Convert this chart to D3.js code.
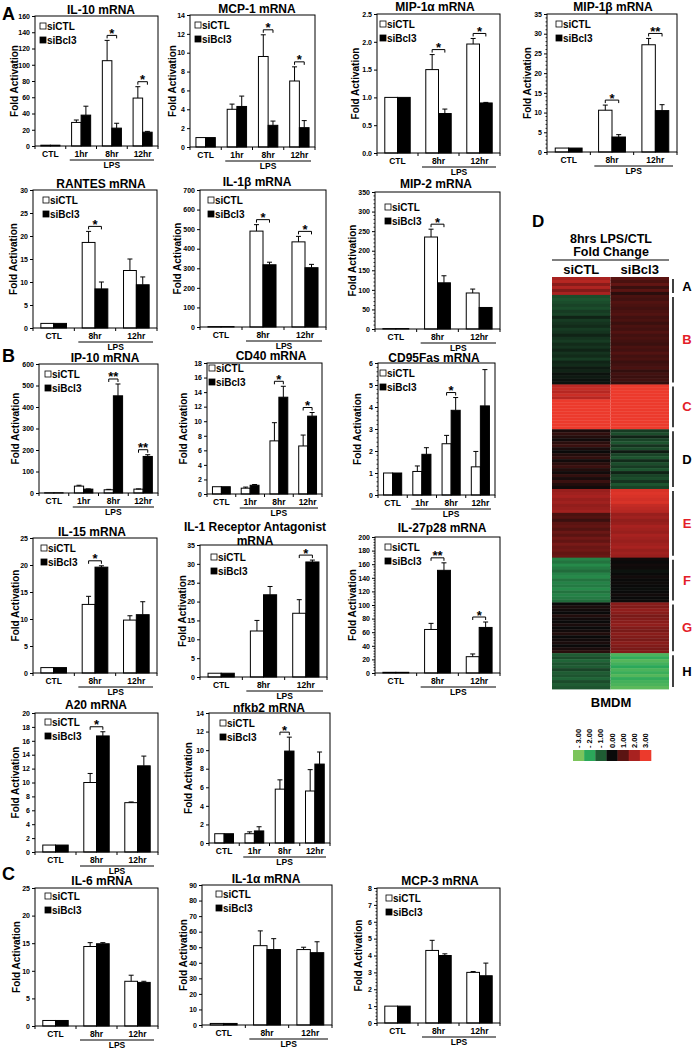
<!DOCTYPE html>
<html>
<head>
<meta charset="utf-8">
<script src="https://cdn.jsdelivr.net/npm/d3@7"></script>
<style>
body { margin: 0; background: #fff; }
svg text { font-family: "Liberation Sans", Arial, sans-serif; font-weight: bold; fill: #000; }
</style>
</head>
<body>
<svg id="fig" width="693" height="1049"></svg>
<script>
// ---- data ----
var catsFour = ["CTL", "1hr", "8hr", "12hr"];
var catsThree = ["CTL", "8hr", "12hr"];
var seriesNames = ["siCTL", "siBcl3"];

var il10Ctl = [1, 29, 105, 59], il10CtlErr = [0, 3, 25, 14];
var il10Bcl = [1, 38, 22, 17], il10BclErr = [0, 11, 6, 1];
var il10Sig = ["", "", "*", "*"];
var il10Ticks = [0, 20, 40, 60, 80, 100, 120, 140, 160];

var mcp1Ctl = [1, 4.0, 9.6, 7.0], mcp1CtlErr = [0, 0.55, 2.3, 1.5];
var mcp1Bcl = [1, 4.3, 2.3, 2.05], mcp1BclErr = [0, 1.1, 0.45, 0.75];
var mcp1Sig = ["", "", "*", "*"];
var mcp1Ticks = [0, 2, 4, 6, 8, 10, 12, 14];

var mip1aCtl = [1, 1.5, 1.96], mip1aCtlErr = [0, 0.27, 0.1];
var mip1aBcl = [1, 0.71, 0.9], mip1aBclErr = [0, 0.08, 0.01];
var mip1aSig = ["", "*", "*"];
var mip1aTicks = [0, 0.5, 1.0, 1.5, 2.0, 2.5];

var mip1bCtl = [1, 10.6, 27.2], mip1bCtlErr = [0, 1.3, 1.6];
var mip1bBcl = [1, 3.8, 10.5], mip1bBclErr = [0, 0.6, 1.5];
var mip1bSig = ["", "*", "**"];
var mip1bTicks = [0, 5, 10, 15, 20, 25, 30, 35];

var rantesCtl = [1, 18.6, 12.5], rantesCtlErr = [0, 2.4, 2.5];
var rantesBcl = [1, 8.5, 9.4], rantesBclErr = [0, 1.5, 1.7];
var rantesSig = ["", "*", ""];
var rantesTicks = [0, 5, 10, 15, 20, 25, 30];

var il1bCtl = [2, 490, 435], il1bCtlErr = [0, 33, 28];
var il1bBcl = [2, 318, 303], il1bBclErr = [0, 13, 17];
var il1bSig = ["", "*", "*"];
var il1bTicks = [0, 100, 200, 300, 400, 500, 600, 700];

var mip2Ctl = [1, 235, 92], mip2CtlErr = [0, 20, 10];
var mip2Bcl = [1, 118, 55], mip2BclErr = [0, 18, 0];
var mip2Sig = ["", "*", ""];
var mip2Ticks = [0, 50, 100, 150, 200, 250, 300, 350];

var ip10Ctl = [1, 32, 15, 18], ip10CtlErr = [0, 4, 2, 1];
var ip10Bcl = [1, 18, 452, 170], ip10BclErr = [0, 1, 55, 8];
var ip10Sig = ["", "", "**", "**"];
var ip10Ticks = [0, 100, 200, 300, 400, 500, 600];

var cd40Ctl = [1, 0.8, 7.3, 6.6], cd40CtlErr = [0, 0.15, 2.5, 1.5];
var cd40Bcl = [1, 1.2, 13.3, 10.7], cd40BclErr = [0, 0.1, 1.5, 0.5];
var cd40Sig = ["", "", "*", "*"];
var cd40Ticks = [0, 2, 4, 6, 8, 10, 12, 14, 16, 18];

var cd95Ctl = [1, 1.07, 2.33, 1.28], cd95CtlErr = [0, 0.25, 0.38, 0.7];
var cd95Bcl = [1, 1.85, 3.85, 4.05], cd95BclErr = [0, 0.3, 0.58, 1.65];
var cd95Sig = ["", "", "*", ""];
var cd95Ticks = [0, 1, 2, 3, 4, 5, 6];

var il15Ctl = [1, 12.7, 9.8], il15CtlErr = [0, 1.5, 0.8];
var il15Bcl = [1, 19.6, 10.8], il15BclErr = [0, 0.25, 2.4];
var il15Sig = ["", "*", ""];
var il15Ticks = [0, 5, 10, 15, 20, 25];

var il1raCtl = [1, 12.2, 16.9], il1raCtlErr = [0, 2.8, 3.6];
var il1raBcl = [1, 21.8, 30.5], il1raBclErr = [0, 2.2, 0.5];
var il1raSig = ["", "", "*"];
var il1raTicks = [0, 5, 10, 15, 20, 25, 30, 35];

var il27Ctl = [1, 64, 24], il27CtlErr = [0, 9, 4];
var il27Bcl = [1, 151, 67], il27BclErr = [0, 11, 8];
var il27Sig = ["", "**", "*"];
var il27Ticks = [0, 20, 40, 60, 80, 100, 120, 140, 160, 180, 200];

var a20Ctl = [1, 10.0, 7.1], a20CtlErr = [0, 1.3, 0.1];
var a20Bcl = [1, 16.7, 12.4], a20BclErr = [0, 0.6, 1.4];
var a20Sig = ["", "*", ""];
var a20Ticks = [0, 2, 4, 6, 8, 10, 12, 14, 16, 18, 20];

var nfkb2Ctl = [1, 1.0, 5.8, 5.6], nfkb2CtlErr = [0, 0.2, 1.0, 2.3];
var nfkb2Bcl = [1, 1.3, 9.9, 8.5], nfkb2BclErr = [0, 0.45, 1.5, 1.3];
var nfkb2Sig = ["", "", "*", ""];
var nfkb2Ticks = [0, 2, 4, 6, 8, 10, 12, 14];

var il6Ctl = [1, 14.4, 8.1], il6CtlErr = [0, 0.7, 1.1];
var il6Bcl = [1, 14.9, 7.9], il6BclErr = [0, 0.2, 0.2];
var il6Sig = ["", "", ""];
var il6Ticks = [0, 5, 10, 15, 20, 25];

var il1aCtl = [1, 51, 48.5], il1aCtlErr = [0, 9.5, 1.5];
var il1aBcl = [1, 48.5, 46.5], il1aBclErr = [0, 7, 7];
var il1aSig = ["", "", ""];
var il1aTicks = [0, 10, 20, 30, 40, 50, 60, 70, 80, 90];

var mcp3Ctl = [1, 4.3, 3.0], mcp3CtlErr = [0, 0.6, 0.05];
var mcp3Bcl = [1, 4.0, 2.8], mcp3BclErr = [0, 0.1, 0.75];
var mcp3Sig = ["", "", ""];
var mcp3Ticks = [0, 1, 2, 3, 4, 5, 6, 7, 8];

// heatmap: log2 fold change rows per cluster
var heatClusters = ["A", "B", "C", "D", "E", "F", "G", "H"];
var heatCtl = [
  [2.0, 2.2, 1.6, 2.1, 1.5, 2.0],
  [-0.8, -0.9, -0.8, -0.7, -0.8, -0.6, -0.7, -0.3, -0.6, -0.5, -0.4, -0.6, -0.5, -0.3, -0.5,
   -0.6, -0.4, -0.5, -0.3, -0.5, -0.4, -0.6, -0.3, -0.4, -0.2, -0.3, -0.1, -0.2, -0.1, -0.1],
  [2.3, 2.4, 2.2, 2.5, 2.2, 3, 3, 3, 3, 3, 3, 3, 3, 3, 3],
  [0.2, 0.5, 0.3, 0.1, 0.4, 0.6, 0.2, 0, 0.3, 0.5, 0.1, 0.4, 0.6, 0.3, 0.1, 0.5, 0.2, 0.6, 0.3, 0.1],
  [1.8, 1.9, 2.0, 1.8, 1.9, 1.7, 1.8, 1.9, 0.8, 0.9, 0.6, 1.0, 1.1, 0.9, 1.2, 1.0, 1.3, 1.1, 1.4, 1.2, 1.3, 1.1, 1.2],
  [-1.5, -1.3, -1.6, -1.4, -1.2, -1.5, -1.6, -1.3, -1.5, -1.4, -1.6, -1.3, -1.5, -1.4, -1.2],
  [0, 0.2, 0.1, 0, 0.3, 0.1, 0, 0.2, 0, 0.1, 0.3, 0, 0.1, 0.2, 0, 0.2, 0.4],
  [-1.0, -0.8, -1.1, -0.9, -1.0, -0.7, -1.0, -0.9, -1.1, -0.8, -1.0, -0.9]
];
var heatBcl3 = [
  [1.0, 0.8, 1.1, 0.6, 1.0, 0.4],
  [0.8, 0.7, 0.9, 0.8, 0.7, 0.8, 0.9, 0.7, 0.8, 0.6, 0.8, 0.7, 0.9, 0.7, 0.8,
   0.7, 0.6, 0.8, 0.7, 0.9, 0.7, 0.8, 0.6, 0.7, 0.8, 0.5, 0.7, 0.6, 0.7, 0.5],
  [3, 3, 3, 3, 3, 3, 3, 3, 3, 3, 3, 3, 3, 3, 3],
  [-0.6, -0.8, -0.3, -0.7, -0.9, -0.5, -0.8, -0.2, -0.7, -0.9, -0.4, -0.8, -0.6, -0.9, -0.3, -0.7, -0.8, -0.5, -0.9, -0.7],
  [2.7, 2.8, 2.7, 2.6, 2.7, 2.4, 2.3, 2.2, 1.8, 1.9, 1.7, 1.8, 2.0, 1.9, 1.8, 2.0, 1.9, 1.8, 1.9, 2.0, 1.8, 1.9, 1.8],
  [0.1, 0, 0.1, 0.05, -0.1, 0, 0.1, 0, 0.05, 0, -0.05, 0, 0.1, 0, 0.05],
  [1.6, 1.5, 1.7, 1.6, 1.4, 1.5, 1.6, 1.7, 1.5, 1.4, 1.6, 1.5, 1.4, 1.6, 1.5, 1.4, 1.5],
  [-2.4, -2.1, -2.5, -2.3, -2.0, -2.4, -2.2, -2.5, -2.1, -2.3, -2.4, -2.6]
];
var legendVals = [-3, -2, -1, 0, 1, 2, 3];
var legendLabels = ["- 3.00", "- 2.00", "- 1.00", "0.00", "1.00", "2.00", "3.00"];

// ---- layout ----
var panels = [
  {title: ["IL-10 mRNA"], tx: 101, ty: 14, cats: catsFour, ctl: il10Ctl, ctlErr: il10CtlErr, bcl: il10Bcl, bclErr: il10BclErr, sig: il10Sig, ticks: il10Ticks, l: 35, r: 158, t: 16, b: 146, lx: 5, ax: 21},
  {title: ["MCP-1 mRNA"], tx: 257, ty: 13, cats: catsFour, ctl: mcp1Ctl, ctlErr: mcp1CtlErr, bcl: mcp1Bcl, bclErr: mcp1BclErr, sig: mcp1Sig, ticks: mcp1Ticks, l: 190, r: 315, t: 15, b: 147, lx: 5, ax: 18},
  {title: ["MIP-1\u03b1 mRNA"], tx: 435, ty: 11, cats: catsThree, ctl: mip1aCtl, ctlErr: mip1aCtlErr, bcl: mip1aBcl, bclErr: mip1aBclErr, sig: mip1aSig, ticks: mip1aTicks, l: 377, r: 500, t: 14, b: 153, lx: 3, ax: 22, fmt: ".1f"},
  {title: ["MIP-1\u03b2 mRNA"], tx: 613, ty: 11, cats: catsThree, ctl: mip1bCtl, ctlErr: mip1bCtlErr, bcl: mip1bBcl, bclErr: mip1bBclErr, sig: mip1bSig, ticks: mip1bTicks, l: 547, r: 677, t: 14, b: 152, lx: 9, ax: 20, minor: true},
  {title: ["RANTES mRNA"], tx: 101, ty: 188, cats: catsThree, ctl: rantesCtl, ctlErr: rantesCtlErr, bcl: rantesBcl, bclErr: rantesBclErr, sig: rantesSig, ticks: rantesTicks, l: 33, r: 157, t: 190, b: 328, lx: 10, ax: 20},
  {title: ["IL-1\u03b2 mRNA"], tx: 257, ty: 186, cats: catsThree, ctl: il1bCtl, ctlErr: il1bCtlErr, bcl: il1bBcl, bclErr: il1bBclErr, sig: il1bSig, ticks: il1bTicks, l: 200, r: 326, t: 190, b: 327, lx: 8, ax: 23},
  {title: ["MIP-2 mRNA"], tx: 436, ty: 188, cats: catsThree, ctl: mip2Ctl, ctlErr: mip2CtlErr, bcl: mip2Bcl, bclErr: mip2BclErr, sig: mip2Sig, ticks: mip2Ticks, l: 375, r: 500, t: 192, b: 329, lx: 10, ax: 23, minor: true, ly: 15},
  {title: ["IP-10 mRNA"], tx: 105, ty: 362, cats: catsFour, ctl: ip10Ctl, ctlErr: ip10CtlErr, bcl: ip10Bcl, bclErr: ip10BclErr, sig: ip10Sig, ticks: ip10Ticks, l: 39, r: 158, t: 364, b: 493, lx: 6, ax: 24},
  {title: ["CD40 mRNA"], tx: 271, ty: 360, cats: catsFour, ctl: cd40Ctl, ctlErr: cd40CtlErr, bcl: cd40Bcl, bclErr: cd40BclErr, sig: cd40Sig, ticks: cd40Ticks, l: 207, r: 322, t: 363, b: 494, lx: 2, ax: 24, ly: 5},
  {title: ["CD95Fas mRNA"], tx: 434, ty: 362, cats: catsFour, ctl: cd95Ctl, ctlErr: cd95CtlErr, bcl: cd95Bcl, bclErr: cd95BclErr, sig: cd95Sig, ticks: cd95Ticks, l: 378, r: 495, t: 363, b: 495, lx: 2, ax: 21, minor: true},
  {title: ["IL-15 mRNA"], tx: 92, ty: 536, cats: catsThree, ctl: il15Ctl, ctlErr: il15CtlErr, bcl: il15Bcl, bclErr: il15BclErr, sig: il15Sig, ticks: il15Ticks, l: 33, r: 157, t: 538, b: 673, lx: 8, ax: 18},
  {title: ["IL-1 Receptor Antagonist", "mRNA"], tx: 255, ty: 531, cats: catsThree, ctl: il1raCtl, ctlErr: il1raCtlErr, bcl: il1raBcl, bclErr: il1raBclErr, sig: il1raSig, ticks: il1raTicks, l: 200, r: 327, t: 545, b: 677, lx: 11, ax: 18, ly: 12},
  {title: ["IL-27p28 mRNA"], tx: 442, ty: 532, cats: catsThree, ctl: il27Ctl, ctlErr: il27CtlErr, bcl: il27Bcl, bclErr: il27BclErr, sig: il27Sig, ticks: il27Ticks, l: 375, r: 500, t: 537, b: 673, lx: 10, ax: 23, minor: true},
  {title: ["A20 mRNA"], tx: 96, ty: 709, cats: catsThree, ctl: a20Ctl, ctlErr: a20CtlErr, bcl: a20Bcl, bclErr: a20BclErr, sig: a20Sig, ticks: a20Ticks, l: 35, r: 158, t: 713, b: 852, lx: 10, ax: 20, ly: 9},
  {title: ["nfkb2 mRNA"], tx: 269, ty: 712, cats: catsFour, ctl: nfkb2Ctl, ctlErr: nfkb2CtlErr, bcl: nfkb2Bcl, bclErr: nfkb2BclErr, sig: nfkb2Sig, ticks: nfkb2Ticks, l: 209, r: 330, t: 713, b: 843, lx: 11, ax: 21},
  {title: ["IL-6 mRNA"], tx: 102, ty: 885, cats: catsThree, ctl: il6Ctl, ctlErr: il6CtlErr, bcl: il6Bcl, bclErr: il6BclErr, sig: il6Sig, ticks: il6Ticks, l: 35, r: 158, t: 888, b: 1026, lx: 10, ax: 19, ly: 8},
  {title: ["IL-1\u03b1 mRNA"], tx: 266, ty: 883, cats: catsThree, ctl: il1aCtl, ctlErr: il1aCtlErr, bcl: il1aBcl, bclErr: il1aBclErr, sig: il1aSig, ticks: il1aTicks, l: 202, r: 332, t: 885, b: 1025, lx: 14, ax: 19, ly: 9},
  {title: ["MCP-3 mRNA"], tx: 440, ty: 885, cats: catsThree, ctl: mcp3Ctl, ctlErr: mcp3CtlErr, bcl: mcp3Bcl, bclErr: mcp3BclErr, sig: mcp3Sig, ticks: mcp3Ticks, l: 377, r: 500, t: 888, b: 1023, lx: 9, ax: 19, minor: true}
];

var svg = d3.select("#fig");
svg.append("rect").attr("width", 693).attr("height", 1049).attr("fill", "#fff");

function drawPanel(p) {
  var g = svg.append("g");
  var ymax = d3.max(p.ticks);
  var y = d3.scaleLinear().domain([0, ymax]).range([p.b, p.t]);
  var x = d3.scaleBand().domain(p.cats).range([p.l, p.r]);
  var pairW = x.bandwidth() * 0.62;
  var xs = d3.scaleBand().domain(seriesNames).range([0, pairW]);
  var off = (x.bandwidth() - pairW) / 2;

  // title
  p.title.forEach(function(s, i) {
    g.append("text").attr("x", p.tx).attr("y", p.ty + i * 14)
      .attr("text-anchor", "middle").attr("font-size", 12).text(s);
  });

  // y axis
  var ax = g.append("g").attr("transform", "translate(" + p.l + ",0)")
    .call(d3.axisLeft(y).tickValues(p.ticks).tickSize(3).tickPadding(2)
      .tickFormat(d3.format(p.fmt || "d")));
  ax.select(".domain").remove();
  ax.selectAll("line").attr("stroke", "#000");
  ax.selectAll("text").attr("font-size", 7).style("font-weight", "bold");
  if (p.minor) {
    var step = p.ticks[1] - p.ticks[0];
    var mins = d3.range(0, ymax, step / 5).filter(function(v) { return Math.abs(v / step - Math.round(v / step)) > 1e-6; });
    g.selectAll(null).data(mins).enter().append("line")
      .attr("x1", p.l - 1.5).attr("x2", p.l)
      .attr("y1", function(v) { return y(v); }).attr("y2", function(v) { return y(v); })
      .attr("stroke", "#000").attr("stroke-width", 0.8);
  }
  g.append("text")
    .attr("transform", "translate(" + (p.l - p.ax) + "," + ((p.t + p.b) / 2) + ") rotate(-90)")
    .attr("text-anchor", "middle").attr("dy", "0.35em").attr("font-size", 10).text("Fold Activation");

  // bars
  var rows = [];
  p.cats.forEach(function(c, i) {
    rows.push({c: c, s: "siCTL", v: p.ctl[i], e: p.ctlErr[i]});
    rows.push({c: c, s: "siBcl3", v: p.bcl[i], e: p.bclErr[i]});
  });
  g.selectAll("rect.bar").data(rows).enter().append("rect").attr("class", "bar")
    .attr("x", function(d) { return x(d.c) + off + xs(d.s); })
    .attr("width", xs.bandwidth())
    .attr("y", function(d) { return y(d.v); })
    .attr("height", function(d) { return p.b - y(d.v); })
    .attr("fill", function(d) { return d.s === "siCTL" ? "#fff" : "#000"; })
    .attr("stroke", "#000").attr("stroke-width", 1);
  var eb = rows.filter(function(d) { return d.e > 0; });
  eb.forEach(function(d) {
    var cx = x(d.c) + off + xs(d.s) + xs.bandwidth() / 2;
    g.append("line").attr("x1", cx).attr("x2", cx).attr("y1", y(d.v)).attr("y2", y(d.v + d.e))
      .attr("stroke", "#000").attr("stroke-width", 1);
    g.append("line").attr("x1", cx - 2.5).attr("x2", cx + 2.5).attr("y1", y(d.v + d.e)).attr("y2", y(d.v + d.e))
      .attr("stroke", "#000").attr("stroke-width", 1);
  });

  // frame + x axis
  g.append("rect").attr("x", p.l).attr("y", p.t).attr("width", p.r - p.l).attr("height", p.b - p.t)
    .attr("fill", "none").attr("stroke", "#000").attr("stroke-width", 1);
  var bounds = p.cats.map(function(c) { return x(c); }).concat([p.r]);
  g.selectAll(null).data(bounds).enter().append("line")
    .attr("x1", function(v) { return v; }).attr("x2", function(v) { return v; })
    .attr("y1", p.b).attr("y2", p.b + 3).attr("stroke", "#000");
  g.selectAll(null).data(p.cats).enter().append("text")
    .attr("x", function(c) { return x(c) + x.bandwidth() / 2; }).attr("y", p.b + 11)
    .attr("text-anchor", "middle").attr("font-size", 8.5).text(function(c) { return c; });
  var lx0 = x(p.cats[1]) + 4, lx1 = p.r - 4;
  g.append("line").attr("x1", lx0).attr("x2", lx1).attr("y1", p.b + 14).attr("y2", p.b + 14)
    .attr("stroke", "#000").attr("stroke-width", 1);
  g.append("text").attr("x", (lx0 + lx1) / 2).attr("y", p.b + 22)
    .attr("text-anchor", "middle").attr("font-size", 8.5).text("LPS");

  // significance
  p.cats.forEach(function(c, i) {
    if (!p.sig[i]) return;
    var c1 = x(c) + off + xs("siCTL") + xs.bandwidth() / 2;
    var c2 = x(c) + off + xs("siBcl3") + xs.bandwidth() / 2;
    var top = Math.min(y(p.ctl[i] + p.ctlErr[i]), y(p.bcl[i] + p.bclErr[i]));
    var by = top - 5;
    g.append("path").attr("d", "M" + c1 + "," + (by + 3) + "V" + by + "H" + c2 + "V" + (by + 3))
      .attr("fill", "none").attr("stroke", "#000").attr("stroke-width", 1);
    g.append("text").attr("x", (c1 + c2) / 2).attr("y", by + 2.5)
      .attr("text-anchor", "middle").attr("font-size", 13).text(p.sig[i]);
  });

  // legend
  var ly = p.t + (p.ly || 10);
  seriesNames.forEach(function(s, i) {
    var yy = ly + i * 14;
    g.append("rect").attr("x", p.l + p.lx).attr("y", yy - 3).attr("width", 6).attr("height", 6)
      .attr("fill", s === "siCTL" ? "#fff" : "#000").attr("stroke", "#000").attr("stroke-width", 0.8);
    g.append("text").attr("x", p.l + p.lx + 7).attr("y", yy + 3.5).attr("font-size", 10).text(s);
  });
}

panels.forEach(drawPanel);

// panel letters
[["A", 2, 20], ["B", 2, 362], ["C", 2, 880]].forEach(function(d) {
  svg.append("text").attr("x", d[1]).attr("y", d[2]).attr("font-size", 18).text(d[0]);
});

// ---- heatmap D ----
var hm = svg.append("g");
hm.append("text").attr("x", 532).attr("y", 227).attr("font-size", 17).text("D");
hm.append("text").attr("x", 611).attr("y", 243).attr("text-anchor", "middle").attr("font-size", 12.5).text("8hrs LPS/CTL");
hm.append("text").attr("x", 611).attr("y", 256).attr("text-anchor", "middle").attr("font-size", 12.5).text("Fold Change");
hm.append("line").attr("x1", 552).attr("x2", 669).attr("y1", 260).attr("y2", 260).attr("stroke", "#000").attr("stroke-width", 1.2);

var hx = d3.scaleBand().domain(seriesNames).range([552, 669]);
seriesNames.forEach(function(s) {
  hm.append("text").attr("x", hx(s) + hx.bandwidth() / 2).attr("y", 274)
    .attr("text-anchor", "middle").attr("font-size", 13).text(s);
});

var heatColor = d3.scaleLinear().domain(legendVals)
  .range(["#7cc45c", "#2ba85a", "#1f5c33", "#0a0a0a", "#5a1412", "#a82220", "#ec3a2c"])
  .clamp(true);

var heatRows = [];
heatCtl.forEach(function(cl, k) {
  cl.forEach(function(v, j) {
    heatRows.push({k: k, ctl: v, bcl: heatBcl3[k][j]});
  });
});
var hy = d3.scaleBand().domain(d3.range(heatRows.length)).range([277, 689]);
heatRows.forEach(function(r, i) {
  hm.append("rect").attr("x", hx("siCTL")).attr("y", hy(i)).attr("width", hx.bandwidth())
    .attr("height", hy.bandwidth() + 0.4).attr("fill", heatColor(r.ctl));
  hm.append("rect").attr("x", hx("siBcl3")).attr("y", hy(i)).attr("width", hx.bandwidth())
    .attr("height", hy.bandwidth() + 0.4).attr("fill", heatColor(r.bcl));
});

var redLetters = {B: 1, C: 1, E: 1, F: 1, G: 1};
var start = 0;
heatClusters.forEach(function(name, k) {
  var n = heatCtl[k].length;
  var y0 = hy(start), y1 = hy(start + n - 1) + hy.bandwidth();
  hm.append("line").attr("x1", 673).attr("x2", 673).attr("y1", y0 + 2).attr("y2", y1 - 2)
    .attr("stroke", "#000").attr("stroke-width", 1.5);
  hm.append("text").attr("x", 687).attr("y", (y0 + y1) / 2).attr("dy", "0.35em")
    .attr("text-anchor", "middle").attr("font-size", 13)
    .style("fill", redLetters[name] ? "#e32028" : "#000").text(name);
  start += n;
});

hm.append("text").attr("x", 611).attr("y", 707).attr("text-anchor", "middle").attr("font-size", 13).text("BMDM");

var lgx = d3.scaleBand().domain(legendVals).range([573, 651]);
legendVals.forEach(function(v, i) {
  hm.append("rect").attr("x", lgx(v)).attr("y", 750).attr("width", lgx.bandwidth() + 0.3).attr("height", 11)
    .attr("fill", heatColor(v));
  hm.append("text")
    .attr("transform", "translate(" + (lgx(v) + lgx.bandwidth() / 2) + ",748) rotate(-90)")
    .attr("dy", "0.35em").attr("font-size", 7.5).text(legendLabels[i]);
});
</script>
</body>
</html>
